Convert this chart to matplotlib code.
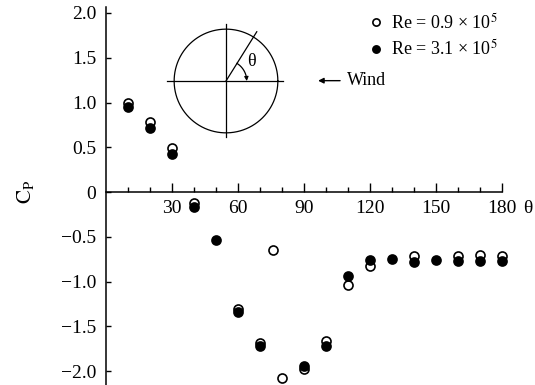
import numpy as np
import matplotlib
matplotlib.use("Agg")
import matplotlib.pyplot as plt
from matplotlib.ticker import FixedLocator, FuncFormatter

plt.rcParams.update({'font.family': ['Liberation Serif', 'DejaVu Serif'],
                     'mathtext.fontset': 'stix',
                     'font.size': 14})

# Re = 0.9e5 (open circles)
theta_low = [10, 20, 30, 40, 60, 70, 76, 80, 90, 100, 110, 120, 140, 160, 170, 180]
cp_low = [0.99, 0.785, 0.495, -0.12, -1.31, -1.69, -0.65, -2.08, -1.98, -1.67,
          -1.04, -0.83, -0.72, -0.72, -0.70, -0.715]
# Re = 3.1e5 (filled circles)
theta_high = [10, 20, 30, 40, 50, 60, 70, 90, 100, 110, 120, 130, 140, 150, 160, 170, 180]
cp_high = [0.95, 0.71, 0.42, -0.17, -0.54, -1.345, -1.72, -1.94, -1.72, -0.94,
           -0.76, -0.75, -0.78, -0.76, -0.77, -0.77, -0.77]

x_major = [30, 60, 90, 120, 150, 180]
x_minor = list(range(10, 180, 10))
y_ticks = [-2.0, -1.5, -1.0, -0.5, 0, 0.5, 1.0, 1.5, 2.0]

fig = plt.figure(figsize=(5.35, 3.85), dpi=100)
ax = fig.add_axes([106/535, 0, 396/535, 378/385])

ax.plot(theta_low, cp_low, 'o', mfc='white', mec='black', mew=1.2, ms=6.5,
        clip_on=False, label='Re = 0.9 × 10$^5$')
ax.plot(theta_high, cp_high, 'o', mfc='black', mec='black', mew=1.2, ms=6.5,
        clip_on=False, label='Re = 3.1 × 10$^5$')

ax.set_xlim(0, 180)
ax.set_ylim(-2.156, 2.067)

for s in ['top', 'right']:
    ax.spines[s].set_visible(False)
ax.spines['bottom'].set_position(('data', 0))
ax.spines['left'].set_linewidth(1.1)
ax.spines['bottom'].set_linewidth(1.1)

ax.xaxis.set_major_locator(FixedLocator(x_major))
ax.xaxis.set_minor_locator(FixedLocator(x_minor))
ax.yaxis.set_major_locator(FixedLocator(y_ticks))
ax.yaxis.set_major_formatter(FuncFormatter(
    lambda v, p: '0' if v == 0 else ('%.1f' % v).replace('-', '\u2212')))
ax.tick_params(axis='x', which='major', direction='in', length=6.5, width=1, pad=6, labelsize=14)
ax.tick_params(axis='x', which='minor', direction='in', length=3.6, width=1)
ax.tick_params(axis='y', which='major', direction='in', length=3.6, width=1, pad=7, labelsize=14)

ax.set_xlabel('\u03b8', fontsize=14)
ax.xaxis.set_label_coords(1.066, 0.466)
ax.xaxis.label.set_verticalalignment('center')
ax.set_ylabel(r'$\mathrm{C_P}$', fontsize=15)
ax.yaxis.set_label_coords(-0.2045, 0.511)
ax.yaxis.label.set_verticalalignment('center')

ax.legend(loc='upper left', bbox_to_anchor=(0.666, 0.985), frameon=False,
          borderpad=0, borderaxespad=0, handlelength=0.7, handletextpad=0.5,
          labelspacing=0.35, fontsize=13, markerscale=0.8)

# wind arrow
ax.annotate('', xy=(96.4, 1.244), xytext=(106.4, 1.244),
            arrowprops=dict(arrowstyle='-|>', lw=1, color='black', mutation_scale=8,
                            shrinkA=0, shrinkB=0))
ax.text(109.5, 1.244, 'Wind', ha='left', va='center', fontsize=13)

# cylinder sketch
ins = fig.add_axes([156/535, (385-151)/385, 140/535, 140/385])
ins.set_xlim(-1.35, 1.35)
ins.set_ylim(-1.35, 1.35)
ins.set_aspect('equal')
ins.axis('off')
t = np.linspace(0, 2*np.pi, 200)
ins.plot(np.cos(t), np.sin(t), color='black', lw=0.9)
ins.plot([-1.14, 1.10], [0, 0], color='black', lw=0.9)
ins.plot([0, 0], [-1.08, 1.10], color='black', lw=0.9)
ang = np.radians(58)
ins.plot([0, 1.12*np.cos(ang)], [0, 1.12*np.sin(ang)], color='black', lw=0.9)
r = 0.4
ta = np.linspace(ang, np.radians(8), 30)
ins.plot(r*np.cos(ta), r*np.sin(ta), color='black', lw=0.9)
ins.annotate('', xy=(r, 0.0), xytext=(r*np.cos(np.radians(9)), r*np.sin(np.radians(9))),
             arrowprops=dict(arrowstyle='-|>', lw=0.8, color='black', mutation_scale=6,
                             shrinkA=0, shrinkB=0))
ins.text(0.5, 0.37, '\u03b8', ha='center', va='center', fontsize=13)

fig.savefig('out.png', dpi=100)
